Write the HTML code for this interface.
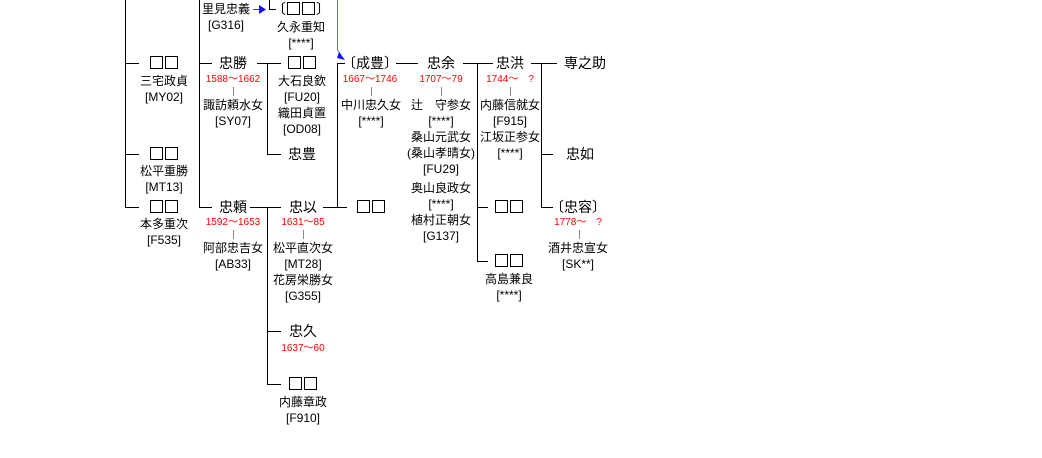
<!DOCTYPE html>
<html><head><meta charset="utf-8"><style>
body{margin:0;width:1042px;height:458px;background:#fff;position:relative;overflow:hidden;font-family:"Liberation Sans","Noto Sans CJK JP",sans-serif;color:#000}
.t{position:absolute;width:140px;text-align:center;white-space:nowrap}
.n{font-size:14px;line-height:16px}
.s{font-size:12px;line-height:16px}
.r{font-size:10px;line-height:12px;color:#f00}
.g{position:absolute;background:#888;width:1px;height:9px}
.b{display:inline-block;width:11px;height:11px;border:1px solid #000;margin:0 1px;vertical-align:-1px}
</style></head><body>
<svg width="1042" height="458" style="position:absolute;left:0;top:0">
<g stroke="#000" stroke-width="1" fill="none" shape-rendering="crispEdges">
<path d="M125.5 0V207.5H139M125.5 63.5H139M125.5 154.5H139"/>
<path d="M199.5 0V207.5H212M199.5 63.5H212"/>
<path d="M269.5 0V9.5H276"/>
<path d="M257 63.5H281M267.5 63.5V154.5H281"/>
<path d="M250 207.5H281M267.5 207.5V384.5H281M267.5 331.5H281"/>
<path d="M323 207.5H347M337.5 207.5V63.5H345"/>
<path d="M396 63.5H418"/>
<path d="M463 63.5H493M477.5 63.5V261.5H488M477.5 207.5H488"/>
<path d="M531 63.5H557M541.5 63.5V207.5H553M541.5 154.5H553"/>
</g>
<g stroke="#33f" fill="#11f">
<line x1="253" y1="9.5" x2="260" y2="9.5"/>
<polygon points="259,5 266,9.5 259,14" stroke="none"/>
<path d="M337.5 0V50L341 55" fill="none" stroke="#66f"/>
<polygon points="339,52 345,60 337,58" stroke="none"/>
</g>
</svg>

<div class="t s" style="left:156px;top:1px">里見忠義<br>[G316]</div>
<div class="t n" style="left:231px;top:1px">〔<span class="b"></span><span class="b"></span>〕</div>
<div class="t s" style="left:231px;top:19px">久永重知<br>[****]</div>

<div class="t n" style="left:94px;top:55px"><span class="b"></span><span class="b"></span></div>
<div class="t s" style="left:94px;top:73px">三宅政貞<br>[MY02]</div>
<div class="t n" style="left:94px;top:146px"><span class="b"></span><span class="b"></span></div>
<div class="t s" style="left:94px;top:163px">松平重勝<br>[MT13]</div>
<div class="t n" style="left:94px;top:199px"><span class="b"></span><span class="b"></span></div>
<div class="t s" style="left:94px;top:216px">本多重次<br>[F535]</div>

<div class="t n" style="left:163px;top:55px">忠勝</div>
<div class="t r" style="left:163px;top:74px">1588～1662</div>
<div class="g" style="left:233px;top:87px"></div>
<div class="t s" style="left:163px;top:97px">諏訪頼水女<br>[SY07]</div>

<div class="t n" style="left:232px;top:55px"><span class="b"></span><span class="b"></span></div>
<div class="t s" style="left:232px;top:73px">大石良欽<br>[FU20]<br>織田貞置<br>[OD08]</div>
<div class="t n" style="left:232px;top:146px">忠豊</div>

<div class="t n" style="left:163px;top:199px">忠頼</div>
<div class="t r" style="left:163px;top:217px">1592～1653</div>
<div class="g" style="left:233px;top:230px"></div>
<div class="t s" style="left:163px;top:240px">阿部忠吉女<br>[AB33]</div>

<div class="t n" style="left:233px;top:199px">忠以</div>
<div class="t r" style="left:233px;top:217px">1631～85</div>
<div class="g" style="left:303px;top:230px"></div>
<div class="t s" style="left:233px;top:240px">松平直次女<br>[MT28]<br>花房栄勝女<br>[G355]</div>
<div class="t n" style="left:233px;top:323px">忠久</div>
<div class="t r" style="left:233px;top:343px">1637～60</div>
<div class="t n" style="left:233px;top:376px"><span class="b"></span><span class="b"></span></div>
<div class="t s" style="left:233px;top:394px">内藤章政<br>[F910]</div>

<div class="t n" style="left:300px;top:55px">〔成豊〕</div>
<div class="t r" style="left:300px;top:74px">1667～1746</div>
<div class="g" style="left:371px;top:87px"></div>
<div class="t s" style="left:301px;top:97px">中川忠久女<br>[****]</div>
<div class="t n" style="left:301px;top:199px"><span class="b"></span><span class="b"></span></div>

<div class="t n" style="left:371px;top:55px">忠余</div>
<div class="t r" style="left:371px;top:74px">1707～79</div>
<div class="g" style="left:441px;top:87px"></div>
<div class="t s" style="left:371px;top:97px">辻　守参女<br>[****]<br>桑山元武女<br>(桑山孝晴女)<br>[FU29]</div>
<div class="t s" style="left:371px;top:180px">奥山良政女<br>[****]<br>植村正朝女<br>[G137]</div>

<div class="t n" style="left:440px;top:55px">忠洪</div>
<div class="t r" style="left:440px;top:74px">1744～　?</div>
<div class="g" style="left:510px;top:87px"></div>
<div class="t s" style="left:440px;top:97px">内藤信就女<br>[F915]<br>江坂正参女<br>[****]</div>
<div class="t n" style="left:439px;top:199px"><span class="b"></span><span class="b"></span></div>
<div class="t n" style="left:439px;top:253px"><span class="b"></span><span class="b"></span></div>
<div class="t s" style="left:439px;top:271px">高島兼良<br>[****]</div>

<div class="t n" style="left:515px;top:55px">専之助</div>
<div class="t n" style="left:510px;top:146px">忠如</div>
<div class="t n" style="left:508px;top:199px">〔忠容〕</div>
<div class="t r" style="left:508px;top:217px">1778～　?</div>
<div class="g" style="left:579px;top:230px"></div>
<div class="t s" style="left:508px;top:240px">酒井忠宣女<br>[SK**]</div>
</body></html>
